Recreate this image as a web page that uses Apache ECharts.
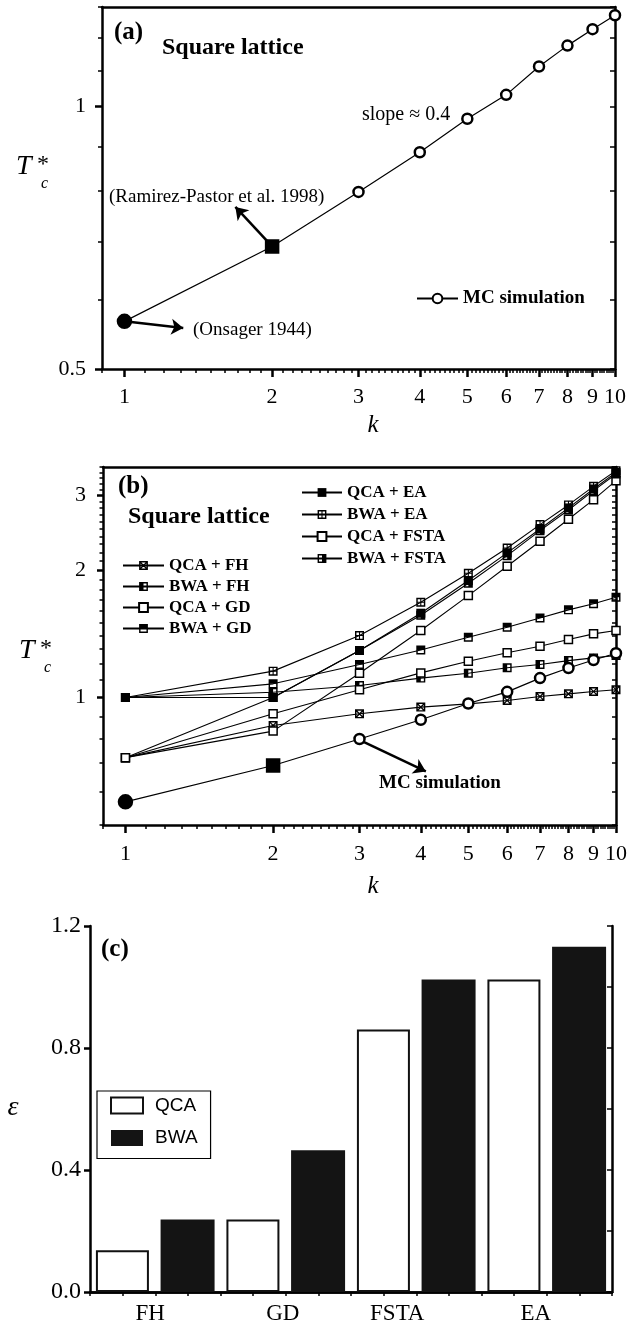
<!DOCTYPE html>
<html>
<head>
    <meta charset="utf-8">
    <title>Tc* vs k</title>
    <script src="https://cdn.jsdelivr.net/npm/echarts@6/dist/echarts.min.js"></script>
    <style type="text/css">
        html, body { margin: 0; padding: 0; background: #fff; }
        #main { width: 638px; height: 1326px; }
    </style>
</head>
<body>
<div id="main"></div>
<script type="text/javascript">
    // k values (both line panels)
    var kValues = [1, 2, 3, 4, 5, 6, 7, 8, 9, 10];
    // MC simulation (k=1 Onsager, k=2 Ramirez-Pastor)
    var mcT = [0.567, 0.691, 0.798, 0.886, 0.968, 1.031, 1.111, 1.174, 1.226, 1.272];

    // panel (b) approximations
    var qcaFH = [0.721, 0.859, 0.915, 0.949, 0.966, 0.984, 1.005, 1.020, 1.033, 1.043];
    var bwaFH = [1.0, 1.029, 1.067, 1.111, 1.141, 1.175, 1.196, 1.222, 1.240, 1.256];
    var qcaGD = [0.721, 0.915, 1.043, 1.143, 1.218, 1.275, 1.321, 1.370, 1.413, 1.439];
    var bwaGD = [1.0, 1.077, 1.196, 1.295, 1.388, 1.465, 1.541, 1.610, 1.664, 1.725];
    var qcaEA = [0.721, 1.0, 1.291, 1.581, 1.888, 2.194, 2.499, 2.802, 3.106, 3.40];
    var bwaEA = [1.0, 1.154, 1.400, 1.678, 1.965, 2.254, 2.559, 2.848, 3.151, 3.431];
    var qcaFSTA = [0.721, 0.833, 1.141, 1.439, 1.740, 2.040, 2.337, 2.634, 2.931, 3.249];
    var bwaFSTA = [1.0, 1.0, 1.291, 1.564, 1.861, 2.162, 2.476, 2.771, 3.078, 3.37];

    // panel (c) bars
    var barCategories = ['FH', 'GD', 'FSTA', 'EA'];
    var qcaError = [0.137, 0.238, 0.861, 1.025];
    var bwaError = [0.238, 0.465, 1.025, 1.132];

    // tick labels
    var kTickLabels = [1, 2, 3, 4, 5, 6, 7, 8, 9, 10];
    var yTickLabelsA = [0.5, 1];
    var yTickLabelsB = [1, 2, 3];

    function tickRange(from, to, step) {
        var out = [];
        for (var v = from; v <= to + 1e-9; v += step) out.push(Math.round(v * 100) / 100);
        return out;
    }
    function notIn(list, majors) {
        return list.filter(function (v) { return majors.indexOf(v) < 0; });
    }
    var kMinor = notIn(tickRange(0.9, 10, 0.1), kTickLabels);
    var yAllA = tickRange(0.5, 1.3, 0.1);
    var yAllB = tickRange(0.5, 3.5, 0.1);

    var serif = '"Liberation Serif", "Times New Roman", serif';
    var black = '#000';

    // marker shapes
    var frame = 'M0,0H10V10H0Z M1.6,1.6V8.4H8.4V1.6Z';
    var symCross = 'path://' + frame + ' M1.6,1.6L2.6,1.6L8.4,7.4L8.4,8.4L7.4,8.4L1.6,2.6Z M8.4,1.6L8.4,2.6L2.6,8.4L1.6,8.4L1.6,7.4L7.4,1.6Z';
    var symPlus = 'path://' + frame + ' M4.4,1.6H5.6V8.4H4.4Z M1.6,4.4H8.4V5.6H1.6Z';
    var symLeftHalf = 'path://' + frame + ' M1.6,1.6H5V8.4H1.6Z';
    var symRightHalf = 'path://' + frame + ' M5,1.6H8.4V8.4H5Z';
    var symTopHalf = 'path://' + frame + ' M1.6,1.6H8.4V5H1.6Z';

    function logAxis(grid, pos, min, max, o) {
        return {
            type: 'log', gridIndex: grid, position: pos, min: min, max: max,
            axisLine: {show: !!o.line, onZero: false, lineStyle: {color: black, width: 2.5}},
            axisTick: {show: !!o.ticks, customValues: o.ticks, inside: !!o.inside, length: o.len || 4,
                lineStyle: {color: black, width: o.tw || 1.5}},
            axisLabel: o.labels ? {
                customValues: o.labels, margin: o.margin, color: black,
                fontFamily: serif, fontSize: 22,
                formatter: function (v) { return String(Math.round(v * 10) / 10); }
            } : {show: false},
            splitLine: {show: false}
        };
    }

    var xAxes = [
        // (a)
        logAxis(0, 'bottom', 0.9, 10, {line: true, ticks: kTickLabels, len: 8, tw: 2.5, labels: kTickLabels, margin: 17}),
        logAxis(0, 'bottom', 0.9, 10, {ticks: kMinor, len: 4}),
        logAxis(0, 'top', 0.9, 10, {line: true}),
        // (b)
        logAxis(1, 'bottom', 0.9, 10, {line: true, ticks: kTickLabels, len: 8, tw: 2.5, labels: kTickLabels, margin: 18}),
        logAxis(1, 'bottom', 0.9, 10, {ticks: kMinor, len: 4}),
        logAxis(1, 'top', 0.9, 10, {line: true}),
        // (c)
        {
            type: 'category', gridIndex: 2, position: 'bottom', data: barCategories,
            axisLine: {show: true, lineStyle: {color: black, width: 2.5}},
            axisTick: {show: false},
            axisLabel: {
                interval: 0, margin: 10, color: black, fontFamily: serif, fontSize: 23,
                formatter: function (v) { return '{' + v.toLowerCase() + '|' + v + '}'; },
                rich: {
                    fh: {fontFamily: serif, fontSize: 23, color: black, padding: [0, 10, 0, 0]},
                    gd: {fontFamily: serif, fontSize: 23, color: black, padding: [0, 6, 0, 0]},
                    fsta: {fontFamily: serif, fontSize: 23, color: black, padding: [0, 38, 0, 0]},
                    ea: {fontFamily: serif, fontSize: 23, color: black, padding: [0, 22, 0, 0]}
                }
            }
        },
        {
            type: 'value', gridIndex: 2, position: 'top', min: 0, max: 16, interval: 1,
            axisLine: {show: true, lineStyle: {color: black, width: 2.5}},
            axisTick: {show: true, inside: true, length: 4, lineStyle: {color: black, width: 1.5}},
            axisLabel: {show: false}, splitLine: {show: false}
        }
    ];

    var yAxes = [
        // (a)
        logAxis(0, 'left', 0.5, 1.3, {line: true, ticks: yTickLabelsA, len: 7, tw: 2.5, labels: yTickLabelsA, margin: 16}),
        logAxis(0, 'left', 0.5, 1.3, {ticks: notIn(yAllA, yTickLabelsA), len: 4}),
        logAxis(0, 'right', 0.5, 1.3, {line: true, ticks: yAllA, inside: true, len: 5}),
        // (b)
        logAxis(1, 'left', 0.5, 3.5, {line: true, ticks: yTickLabelsB, len: 6, tw: 2.5, labels: yTickLabelsB, margin: 17}),
        logAxis(1, 'left', 0.5, 3.5, {ticks: notIn(yAllB, yTickLabelsB), len: 3.5}),
        logAxis(1, 'right', 0.5, 3.5, {line: true, ticks: yAllB, inside: true, len: 4}),
        // (c)
        {
            type: 'value', gridIndex: 2, position: 'left', min: 0, max: 1.2, interval: 0.4,
            axisLine: {show: true, lineStyle: {color: black, width: 2.5}},
            axisTick: {show: true, length: 6, lineStyle: {color: black, width: 2.5}},
            axisLabel: {margin: 9, color: black, fontFamily: serif, fontSize: 24,
                formatter: function (v) { return v.toFixed(1); }},
            splitLine: {show: false}
        },
        {
            type: 'value', gridIndex: 2, position: 'right', min: 0, max: 1.2, interval: 0.2,
            axisLine: {show: true, lineStyle: {color: black, width: 2.5}},
            axisTick: {show: true, inside: true, length: 5, lineStyle: {color: black, width: 1.5}},
            axisLabel: {show: false}, splitLine: {show: false}
        }
    ];

    function mcData() {
        return kValues.map(function (k, i) {
            if (i === 0) return {value: [k, mcT[i]], symbol: 'circle', symbolSize: 13, itemStyle: {color: black, borderColor: black}};
            if (i === 1) return {value: [k, mcT[i]], symbol: 'rect', symbolSize: 12, itemStyle: {color: black, borderColor: black}};
            return [k, mcT[i]];
        });
    }
    function pairs(vals) {
        return kValues.map(function (k, i) { return [k, vals[i]]; });
    }
    var arrowMark = {
        silent: true, symbol: ['none', 'arrow'], symbolSize: 12,
        lineStyle: {color: black, width: 2.5, type: 'solid'},
        label: {show: false}, emphasis: {disabled: true}
    };

    var series = [
        {
            name: 'MC simulation', type: 'line', xAxisIndex: 0, yAxisIndex: 0,
            data: mcData(), symbol: 'circle', symbolSize: 10, z: 4,
            itemStyle: {color: '#fff', borderColor: black, borderWidth: 2.5},
            lineStyle: {color: black, width: 1.2},
            markLine: Object.assign({}, arrowMark, {
                data: [
                    [{coord: [2, 0.691]}, {coord: [1.683, 0.767]}],
                    [{coord: [1, 0.567]}, {coord: [1.318, 0.557]}]
                ]
            })
        },
        {
            name: 'MC (b)', type: 'line', xAxisIndex: 3, yAxisIndex: 3,
            data: mcData(), symbol: 'circle', symbolSize: 10, z: 4,
            itemStyle: {color: '#fff', borderColor: black, borderWidth: 2.5},
            lineStyle: {color: black, width: 1.2},
            markLine: Object.assign({}, arrowMark, {
                data: [[{coord: [3.05, 0.787]}, {coord: [4.096, 0.669]}]]
            })
        }
    ];

    var approx = [
        {name: 'QCA + FH', vals: qcaFH, symbol: symCross},
        {name: 'BWA + FH', vals: bwaFH, symbol: symLeftHalf},
        {name: 'QCA + GD', vals: qcaGD, symbol: 'rect', open: true},
        {name: 'BWA + GD', vals: bwaGD, symbol: symTopHalf},
        {name: 'QCA + EA', vals: qcaEA, symbol: 'rect'},
        {name: 'BWA + EA', vals: bwaEA, symbol: symPlus},
        {name: 'QCA + FSTA', vals: qcaFSTA, symbol: 'rect', open: true},
        {name: 'BWA + FSTA', vals: bwaFSTA, symbol: symRightHalf}
    ];
    approx.forEach(function (a) {
        series.push({
            name: a.name, type: 'line', xAxisIndex: 3, yAxisIndex: 3,
            data: pairs(a.vals), symbol: a.symbol, symbolSize: a.open ? 8 : 9, z: 3,
            itemStyle: a.open ? {color: '#fff', borderColor: black, borderWidth: 1.5}
                : {color: black, borderColor: black, borderWidth: 0},
            lineStyle: {color: black, width: 1.1}
        });
    });

    series.push({
        name: 'QCA', type: 'bar', xAxisIndex: 6, yAxisIndex: 6, data: qcaError,
        barWidth: 53, barGap: '24%',
        itemStyle: {color: '#fff', borderColor: '#111', borderWidth: 2}
    });
    series.push({
        name: 'BWA', type: 'bar', xAxisIndex: 6, yAxisIndex: 6, data: bwaError,
        barWidth: 54, barGap: '22%',
        itemStyle: {color: '#141414', borderColor: '#141414', borderWidth: 0}
    });

    function txt(x, y, s, font, align) {
        return {type: 'text', x: x, y: y, silent: true,
            style: {text: s, font: font, fill: black, align: align || 'left', verticalAlign: 'middle'}};
    }
    var bold24 = 'bold 24px ' + serif;

    var graphics = [
        // (a)
        txt(114, 33, '(a)', 'bold 25px ' + serif),
        txt(162, 48, 'Square lattice', bold24),
        txt(362, 115, 'slope \u2248 0.4', '20px ' + serif),
        txt(109, 197, '(Ramirez-Pastor et al. 1998)', '19px ' + serif),
        txt(193, 330, '(Onsager 1944)', '19px ' + serif),
        txt(16, 167, 'T', 'italic 28px ' + serif),
        txt(37, 165, '*', '24px ' + serif),
        txt(41, 184, 'c', 'italic 16px ' + serif),
        txt(373, 425, 'k', 'italic 25px ' + serif, 'center'),
        // (b)
        txt(118, 487, '(b)', 'bold 25px ' + serif),
        txt(128, 517, 'Square lattice', bold24),
        txt(379, 783, 'MC simulation', 'bold 19px ' + serif),
        txt(19, 651, 'T', 'italic 28px ' + serif),
        txt(40, 649, '*', '24px ' + serif),
        txt(44, 668, 'c', 'italic 16px ' + serif),
        txt(373, 886, 'k', 'italic 25px ' + serif, 'center'),
        // (c)
        txt(101, 950, '(c)', 'bold 25px ' + serif),
        txt(13, 1108, '\u03b5', 'italic 28px ' + serif, 'center')
    ];

    var legendLineText = {fontFamily: serif, fontWeight: 'bold', fontSize: 17, color: black};

    var chart = echarts.init(document.getElementById('main'));
    chart.setOption({
        animation: false,
        backgroundColor: '#fff',
        grid: [
            {left: 102, top: 7, width: 513, height: 362},
            {left: 103, top: 467, width: 513, height: 358},
            {left: 90, top: 926, width: 522, height: 366}
        ],
        xAxis: xAxes,
        yAxis: yAxes,
        legend: [
            {
                data: ['MC simulation'], left: 411, top: 284, selectedMode: false,
                itemWidth: 41, itemHeight: 12,
                textStyle: {fontFamily: serif, fontWeight: 'bold', fontSize: 19, color: black}
            },
            {
                data: ['QCA + FH', 'BWA + FH', 'QCA + GD', 'BWA + GD'],
                orient: 'vertical', left: 122, top: 557, itemGap: 4, selectedMode: false,
                itemWidth: 41, itemHeight: 11, padding: 0, textStyle: legendLineText
            },
            {
                data: ['QCA + EA', 'BWA + EA', 'QCA + FSTA', 'BWA + FSTA'],
                orient: 'vertical', left: 301, top: 484, itemGap: 5, selectedMode: false,
                itemWidth: 40, itemHeight: 11, padding: 0, textStyle: legendLineText
            },
            {
                data: ['QCA', 'BWA'], orient: 'vertical', left: 97, top: 1091, selectedMode: false,
                padding: [5, 13, 11, 13], itemGap: 13.5, itemWidth: 32, itemHeight: 16, icon: 'rect',
                borderColor: black, borderWidth: 1.2, borderRadius: 0,
                textStyle: {fontFamily: '"Liberation Sans", Arial, sans-serif', fontSize: 19, color: black, padding: [0, 0, 0, 7]}
            }
        ],
        graphic: graphics,
        series: series
    });
</script>
</body>
</html>
